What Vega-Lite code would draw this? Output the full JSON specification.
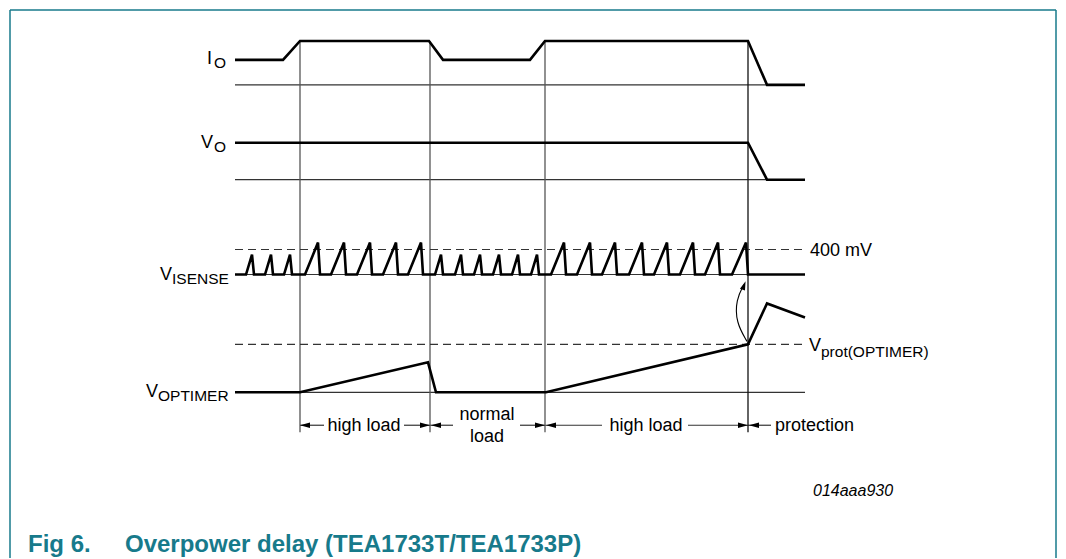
{
  "$schema": "https://vega.github.io/schema/vega-lite/v6.json",
  "width": 1066,
  "height": 559,
  "autosize": {"type": "fit", "contains": "padding"},
  "padding": 0,
  "background": "white",
  "config": {"view": {"stroke": null}},
  "datasets": {
    "border": [
      {"x": 10, "y": 10, "x2": 1056, "y2": 10},
      {"x": 10, "y": 10, "x2": 10, "y2": 559},
      {"x": 1056, "y": 10, "x2": 1056, "y2": 559}
    ],
    "rules": [
      {"k": "base", "x": 235, "y": 85, "x2": 805, "y2": 85},
      {"k": "base", "x": 235, "y": 180, "x2": 805, "y2": 180},
      {"k": "base", "x": 235, "y": 275, "x2": 805, "y2": 275},
      {"k": "base", "x": 235, "y": 393, "x2": 805, "y2": 393},
      {"k": "vert", "x": 300, "y": 41, "x2": 300, "y2": 433},
      {"k": "vert", "x": 430, "y": 41, "x2": 430, "y2": 433},
      {"k": "vert", "x": 545, "y": 41, "x2": 545, "y2": 433},
      {"k": "vert2", "x": 748, "y": 41, "x2": 748, "y2": 433},
      {"k": "arrow", "x": 300, "y": 426, "x2": 324, "y2": 426},
      {"k": "arrow", "x": 404, "y": 426, "x2": 430, "y2": 426},
      {"k": "arrow", "x": 430, "y": 426, "x2": 453, "y2": 426},
      {"k": "arrow", "x": 520, "y": 426, "x2": 545, "y2": 426},
      {"k": "arrow", "x": 545, "y": 426, "x2": 602, "y2": 426},
      {"k": "arrow", "x": 688, "y": 426, "x2": 748, "y2": 426},
      {"k": "arrow", "x": 748, "y": 426, "x2": 771, "y2": 426},
      {"k": "dash", "x": 235, "y": 250, "x2": 803, "y2": 250},
      {"k": "dash", "x": 235, "y": 345, "x2": 803, "y2": 345}
    ],
    "traces": [
      {"s": "IO", "i": 0, "x": 235, "y": 60},
      {"s": "IO", "i": 1, "x": 283, "y": 60},
      {"s": "IO", "i": 2, "x": 300, "y": 41},
      {"s": "IO", "i": 3, "x": 429, "y": 41},
      {"s": "IO", "i": 4, "x": 443, "y": 60},
      {"s": "IO", "i": 5, "x": 530, "y": 60},
      {"s": "IO", "i": 6, "x": 545, "y": 41},
      {"s": "IO", "i": 7, "x": 748, "y": 41},
      {"s": "IO", "i": 8, "x": 767, "y": 85},
      {"s": "IO", "i": 9, "x": 805, "y": 85},
      {"s": "VO", "i": 0, "x": 235, "y": 143},
      {"s": "VO", "i": 1, "x": 748, "y": 143},
      {"s": "VO", "i": 2, "x": 767, "y": 180},
      {"s": "VO", "i": 3, "x": 805, "y": 180},
      {"s": "VT", "i": 0, "x": 235, "y": 393},
      {"s": "VT", "i": 1, "x": 300, "y": 393},
      {"s": "VT", "i": 2, "x": 428, "y": 363},
      {"s": "VT", "i": 3, "x": 436, "y": 393},
      {"s": "VT", "i": 4, "x": 546, "y": 393},
      {"s": "VT", "i": 5, "x": 748, "y": 345},
      {"s": "VT", "i": 6, "x": 767, "y": 304},
      {"s": "VT", "i": 7, "x": 805, "y": 318},
      {"s": "VI", "i": 0, "x": 235, "y": 275},
      {"s": "VI", "i": 1, "x": 246, "y": 275},
      {"s": "VI", "i": 2, "x": 252, "y": 255},
      {"s": "VI", "i": 3, "x": 254, "y": 275},
      {"s": "VI", "i": 4, "x": 265, "y": 275},
      {"s": "VI", "i": 5, "x": 271, "y": 255},
      {"s": "VI", "i": 6, "x": 273, "y": 275},
      {"s": "VI", "i": 7, "x": 284, "y": 275},
      {"s": "VI", "i": 8, "x": 290, "y": 255},
      {"s": "VI", "i": 9, "x": 292, "y": 275},
      {"s": "VI", "i": 10, "x": 305, "y": 275},
      {"s": "VI", "i": 11, "x": 318, "y": 243},
      {"s": "VI", "i": 12, "x": 320, "y": 275},
      {"s": "VI", "i": 13, "x": 331, "y": 275},
      {"s": "VI", "i": 14, "x": 344, "y": 243},
      {"s": "VI", "i": 15, "x": 346, "y": 275},
      {"s": "VI", "i": 16, "x": 357, "y": 275},
      {"s": "VI", "i": 17, "x": 370, "y": 243},
      {"s": "VI", "i": 18, "x": 372, "y": 275},
      {"s": "VI", "i": 19, "x": 383, "y": 275},
      {"s": "VI", "i": 20, "x": 396, "y": 243},
      {"s": "VI", "i": 21, "x": 398, "y": 275},
      {"s": "VI", "i": 22, "x": 408, "y": 275},
      {"s": "VI", "i": 23, "x": 421, "y": 243},
      {"s": "VI", "i": 24, "x": 423, "y": 275},
      {"s": "VI", "i": 25, "x": 435, "y": 275},
      {"s": "VI", "i": 26, "x": 441, "y": 255},
      {"s": "VI", "i": 27, "x": 443, "y": 275},
      {"s": "VI", "i": 28, "x": 455, "y": 275},
      {"s": "VI", "i": 29, "x": 461, "y": 255},
      {"s": "VI", "i": 30, "x": 463, "y": 275},
      {"s": "VI", "i": 31, "x": 474, "y": 275},
      {"s": "VI", "i": 32, "x": 480, "y": 255},
      {"s": "VI", "i": 33, "x": 482, "y": 275},
      {"s": "VI", "i": 34, "x": 493, "y": 275},
      {"s": "VI", "i": 35, "x": 499, "y": 255},
      {"s": "VI", "i": 36, "x": 501, "y": 275},
      {"s": "VI", "i": 37, "x": 512, "y": 275},
      {"s": "VI", "i": 38, "x": 518, "y": 255},
      {"s": "VI", "i": 39, "x": 520, "y": 275},
      {"s": "VI", "i": 40, "x": 531, "y": 275},
      {"s": "VI", "i": 41, "x": 537, "y": 255},
      {"s": "VI", "i": 42, "x": 539, "y": 275},
      {"s": "VI", "i": 43, "x": 551, "y": 275},
      {"s": "VI", "i": 44, "x": 564, "y": 243},
      {"s": "VI", "i": 45, "x": 566, "y": 275},
      {"s": "VI", "i": 46, "x": 577, "y": 275},
      {"s": "VI", "i": 47, "x": 590, "y": 243},
      {"s": "VI", "i": 48, "x": 592, "y": 275},
      {"s": "VI", "i": 49, "x": 602, "y": 275},
      {"s": "VI", "i": 50, "x": 615, "y": 243},
      {"s": "VI", "i": 51, "x": 617, "y": 275},
      {"s": "VI", "i": 52, "x": 629, "y": 275},
      {"s": "VI", "i": 53, "x": 642, "y": 243},
      {"s": "VI", "i": 54, "x": 644, "y": 275},
      {"s": "VI", "i": 55, "x": 654, "y": 275},
      {"s": "VI", "i": 56, "x": 667, "y": 243},
      {"s": "VI", "i": 57, "x": 669, "y": 275},
      {"s": "VI", "i": 58, "x": 680, "y": 275},
      {"s": "VI", "i": 59, "x": 693, "y": 243},
      {"s": "VI", "i": 60, "x": 695, "y": 275},
      {"s": "VI", "i": 61, "x": 705, "y": 275},
      {"s": "VI", "i": 62, "x": 718, "y": 243},
      {"s": "VI", "i": 63, "x": 720, "y": 275},
      {"s": "VI", "i": 64, "x": 732, "y": 275},
      {"s": "VI", "i": 65, "x": 746, "y": 243},
      {"s": "VI", "i": 66, "x": 748, "y": 275},
      {"s": "VI", "i": 67, "x": 805, "y": 275}
    ],
    "curve": [
      {"i": 0, "x": 747, "y": 342},
      {"i": 1, "x": 736, "y": 323},
      {"i": 2, "x": 736, "y": 300},
      {"i": 3, "x": 744, "y": 285}
    ],
    "heads": [
      {"d": "left", "x": 305, "y": 426},
      {"d": "right", "x": 425, "y": 426},
      {"d": "left", "x": 436, "y": 426},
      {"d": "right", "x": 540, "y": 426},
      {"d": "left", "x": 551, "y": 426},
      {"d": "right", "x": 743, "y": 426},
      {"d": "left", "x": 754, "y": 426}
    ],
    "uphead": [
      {"x": 744, "y": 286}
    ],
    "labels": [
      {"r": "mainR", "t": "I", "x": 212, "y": 64},
      {"r": "mainR", "t": "V", "x": 213, "y": 148},
      {"r": "mainR", "t": "V", "x": 172, "y": 281},
      {"r": "mainR", "t": "V", "x": 158, "y": 398},
      {"r": "sub", "t": "O", "x": 214, "y": 68},
      {"r": "sub", "t": "O", "x": 214, "y": 152},
      {"r": "sub", "t": "ISENSE", "x": 172, "y": 285},
      {"r": "sub", "t": "OPTIMER", "x": 158, "y": 402},
      {"r": "mainL", "t": "V", "x": 809, "y": 352},
      {"r": "sub", "t": "prot(OPTIMER)", "x": 821, "y": 358},
      {"r": "noteL", "t": "400 mV", "x": 810, "y": 256},
      {"r": "noteC", "t": "high load", "x": 364, "y": 432},
      {"r": "noteC", "t": "normal", "x": 487, "y": 421},
      {"r": "noteC", "t": "load", "x": 487, "y": 443},
      {"r": "noteC", "t": "high load", "x": 646, "y": 432},
      {"r": "noteL", "t": "protection", "x": 775, "y": 432},
      {"r": "id", "t": "014aaa930", "x": 813, "y": 497},
      {"r": "cap", "t": "Fig 6.", "x": 28, "y": 553},
      {"r": "cap", "t": "Overpower delay (TEA1733T/TEA1733P)", "x": 125, "y": 553}
    ]
  },
  "encoding": {
    "x": {"field": "x", "type": "quantitative", "scale": {"domain": [0, 1066], "nice": false, "zero": false}, "axis": null},
    "y": {"field": "y", "type": "quantitative", "scale": {"domain": [0, 559], "nice": false, "zero": false, "reverse": true}, "axis": null}
  },
  "layer": [
    {
      "data": {"name": "border"},
      "mark": {"type": "rule", "color": "#177a8b", "strokeWidth": 1.5},
      "encoding": {"x2": {"field": "x2"}, "y2": {"field": "y2"}}
    },
    {
      "data": {"name": "rules"},
      "transform": [{"filter": "datum.k === 'base' || datum.k === 'arrow'"}],
      "mark": {"type": "rule", "color": "#333333", "strokeWidth": 1.2},
      "encoding": {"x2": {"field": "x2"}, "y2": {"field": "y2"}}
    },
    {
      "data": {"name": "rules"},
      "transform": [{"filter": "datum.k === 'vert'"}],
      "mark": {"type": "rule", "color": "#555555", "strokeWidth": 1.3},
      "encoding": {"x2": {"field": "x2"}, "y2": {"field": "y2"}}
    },
    {
      "data": {"name": "rules"},
      "transform": [{"filter": "datum.k === 'vert2'"}],
      "mark": {"type": "rule", "color": "#111111", "strokeWidth": 1.3},
      "encoding": {"x2": {"field": "x2"}, "y2": {"field": "y2"}}
    },
    {
      "data": {"name": "rules"},
      "transform": [{"filter": "datum.k === 'dash'"}],
      "mark": {"type": "rule", "color": "#333333", "strokeWidth": 1.1, "strokeDash": [8, 5]},
      "encoding": {"x2": {"field": "x2"}, "y2": {"field": "y2"}}
    },
    {
      "data": {"name": "traces"},
      "mark": {"type": "line", "color": "#000000", "strokeWidth": 2.6, "strokeJoin": "miter", "strokeMiterLimit": 3},
      "encoding": {"detail": {"field": "s"}, "order": {"field": "i", "type": "quantitative"}}
    },
    {
      "data": {"name": "curve"},
      "mark": {"type": "line", "color": "#000000", "strokeWidth": 1.1, "interpolate": "basis"},
      "encoding": {"order": {"field": "i", "type": "quantitative"}}
    },
    {
      "data": {"name": "heads"},
      "mark": {"type": "point", "filled": true, "color": "#000000", "opacity": 1, "size": 100, "strokeWidth": 0},
      "encoding": {
        "shape": {"field": "d", "type": "nominal", "legend": null,
          "scale": {"domain": ["left", "right"], "range": ["M -1 0 L 1 -0.55 L 1 0.55 Z", "M 1 0 L -1 -0.55 L -1 0.55 Z"]}}
      }
    },
    {
      "data": {"name": "uphead"},
      "mark": {"type": "point", "filled": true, "color": "#000000", "opacity": 1, "size": 80, "strokeWidth": 0, "angle": 20, "shape": "M 0 -1 L 0.6 1 L -0.6 1 Z"}
    },
    {
      "data": {"name": "labels"},
      "transform": [{"filter": "datum.r === 'mainR'"}],
      "mark": {"type": "text", "font": "Liberation Sans", "fontSize": 18, "align": "right", "baseline": "alphabetic", "color": "#000000"},
      "encoding": {"text": {"field": "t"}}
    },
    {
      "data": {"name": "labels"},
      "transform": [{"filter": "datum.r === 'mainL'"}],
      "mark": {"type": "text", "font": "Liberation Sans", "fontSize": 18, "align": "left", "baseline": "alphabetic", "color": "#000000"},
      "encoding": {"text": {"field": "t"}}
    },
    {
      "data": {"name": "labels"},
      "transform": [{"filter": "datum.r === 'sub'"}],
      "mark": {"type": "text", "font": "Liberation Sans", "fontSize": 15.5, "align": "left", "baseline": "alphabetic", "color": "#000000"},
      "encoding": {"text": {"field": "t"}}
    },
    {
      "data": {"name": "labels"},
      "transform": [{"filter": "datum.r === 'noteC'"}],
      "mark": {"type": "text", "font": "Liberation Sans", "fontSize": 18, "align": "center", "baseline": "alphabetic", "color": "#000000"},
      "encoding": {"text": {"field": "t"}}
    },
    {
      "data": {"name": "labels"},
      "transform": [{"filter": "datum.r === 'noteL'"}],
      "mark": {"type": "text", "font": "Liberation Sans", "fontSize": 18, "align": "left", "baseline": "alphabetic", "color": "#000000"},
      "encoding": {"text": {"field": "t"}}
    },
    {
      "data": {"name": "labels"},
      "transform": [{"filter": "datum.r === 'id'"}],
      "mark": {"type": "text", "font": "Liberation Sans", "fontSize": 16, "fontStyle": "italic", "align": "left", "baseline": "alphabetic", "color": "#000000"},
      "encoding": {"text": {"field": "t"}}
    },
    {
      "data": {"name": "labels"},
      "transform": [{"filter": "datum.r === 'cap'"}],
      "mark": {"type": "text", "font": "Liberation Sans", "fontSize": 24, "fontWeight": "bold", "align": "left", "baseline": "alphabetic", "color": "#177a8b"},
      "encoding": {"text": {"field": "t"}}
    }
  ]
}
